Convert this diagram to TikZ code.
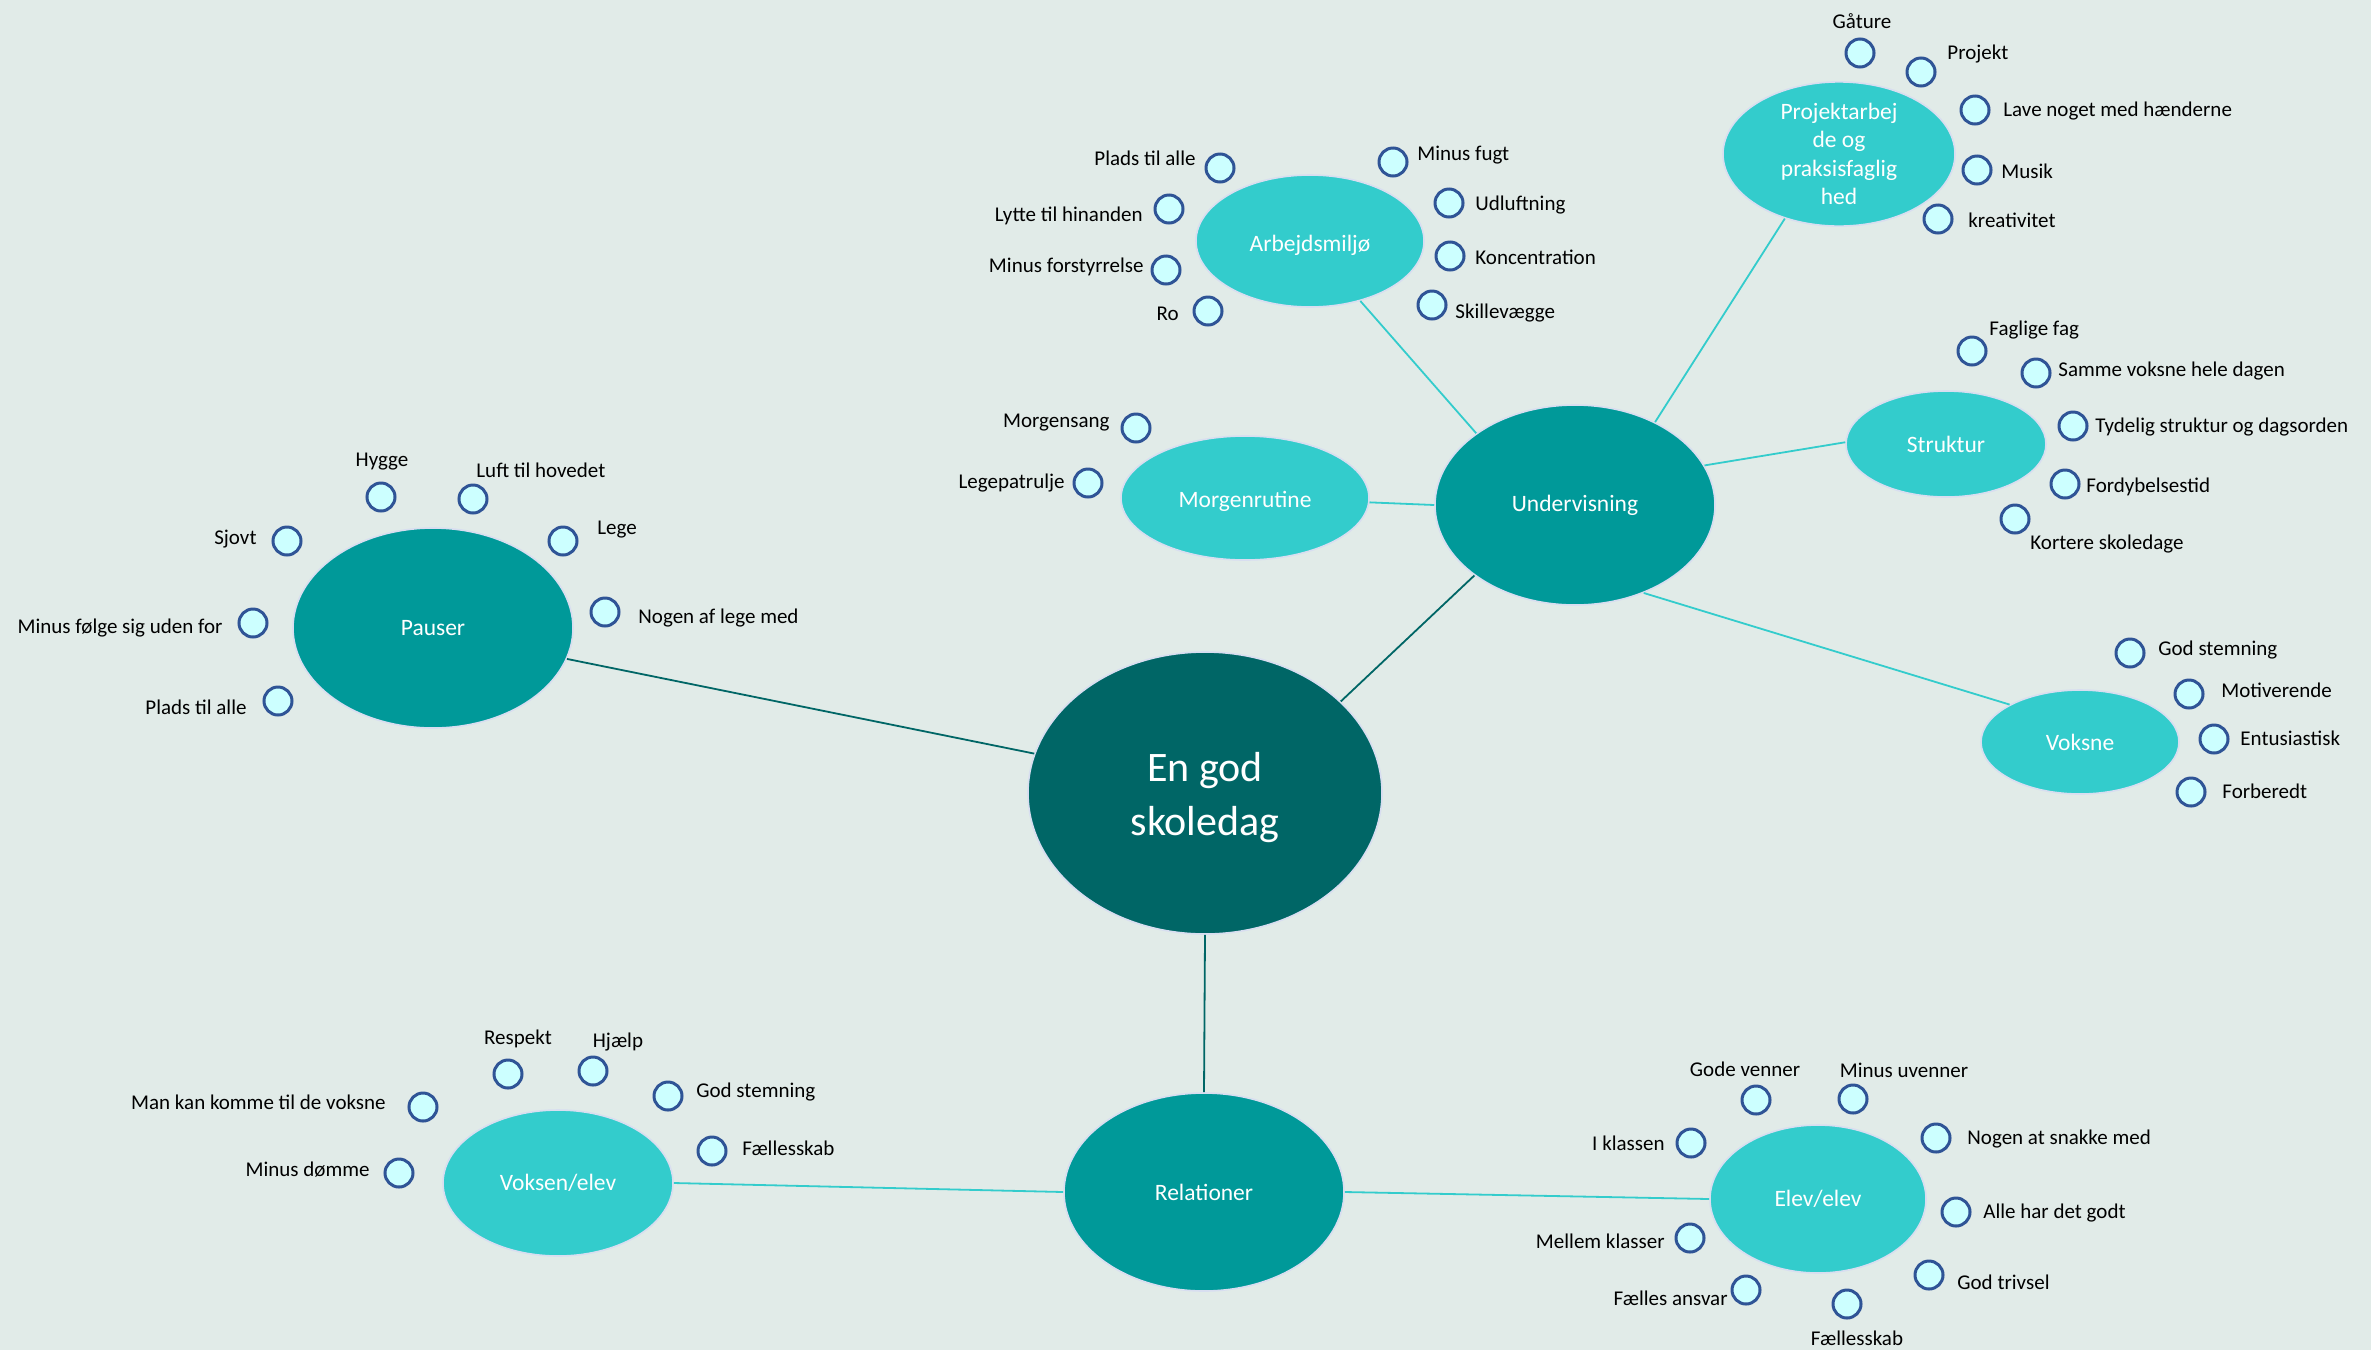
\documentclass[tikz,border=0pt]{standalone}
\usepackage{fontspec}
\setmainfont{Carlito}
\usetikzlibrary{shapes.geometric}
\definecolor{bg}{HTML}{E1EBE8}
\definecolor{coreteal}{HTML}{006666}
\definecolor{midteal}{HTML}{009999}
\definecolor{lightteal}{HTML}{33CCCC}
\definecolor{bubfill}{HTML}{CCFFFF}
\definecolor{bubline}{HTML}{2F5496}
\definecolor{glow}{HTML}{D8DEF0}
\tikzset{
  bub/.style={circle, draw=bubline, fill=bubfill, line width=1.5pt, minimum size=14pt, inner sep=0pt},
  lab/.style={font=\fontsize{10.5}{12.6}\selectfont, inner sep=0pt, text height=0.65em, text depth=0.2em, text=black, yshift=-1.5pt},
  labE/.style={lab, anchor=east},
  labW/.style={lab, anchor=west},
  labC/.style={lab, anchor=center},
  topic/.style={ellipse, draw=glow, line width=0.8pt, text=white, inner sep=0pt, align=center},
  core/.style={topic, fill=coreteal, font=\fontsize{21}{27}\selectfont},
  lvlone/.style={topic, fill=midteal, font=\fontsize{11.75}{14.25}\selectfont},
  lvltwo/.style={topic, fill=lightteal, font=\fontsize{11.75}{14.25}\selectfont},
  linkdark/.style={draw=coreteal, line width=0.9pt},
  linklight/.style={draw=lightteal, line width=0.9pt}
}
\begin{document}
\begin{tikzpicture}[x=0.5pt, y=-0.5pt]
\useasboundingbox[fill=bg] (0,0) rectangle (2371,1350);

% main topics
\node[core, minimum width=177pt, minimum height=141pt] (central) at (1205,793) {\raisebox{-2.5pt}[\height][\depth]{\begin{tabular}{@{}c@{}}En god\\skoledag\end{tabular}}};
\node[lvlone, minimum width=140pt, minimum height=100pt] (und) at (1575,505) {Undervisning};
\node[lvlone, minimum width=140pt, minimum height=100pt] (pauser) at (433,628) {Pauser};
\node[lvlone, minimum width=140pt, minimum height=99pt] (rel) at (1204,1192) {Relationer};

% sub topics
\node[lvltwo, minimum width=114pt, minimum height=66pt] (arb) at (1310,241) {\raisebox{-2pt}[\height][\depth]{Arbejdsmiljø}};
\node[lvltwo, minimum width=116pt, minimum height=67pt] (proj) at (1839,154) {Projektarbej\\de og\\praksisfaglig\\hed};
\node[lvltwo, minimum width=124pt, minimum height=62pt] (morg) at (1245,498) {\raisebox{-1.5pt}[\height][\depth]{Morgenrutine}};
\node[lvltwo, minimum width=100pt, minimum height=53pt] (strukt) at (1946,444) {Struktur};
\node[lvltwo, minimum width=99pt, minimum height=52pt] (voksne) at (2080,742) {Voksne};
\node[lvltwo, minimum width=115pt, minimum height=73pt] (voel) at (558,1183) {Voksen/elev};
\node[lvltwo, minimum width=108pt, minimum height=74pt] (elel) at (1818,1199) {Elev/elev};

% connectors
\draw[linkdark] (central.167) -- (pauser.-13);
\draw[linkdark] (central.34) -- (und.215);
\draw[linkdark] (central.-90) -- (rel.90);
\draw[linklight] (und.144) -- (arb.-50);
\draw[linklight] (und.46) -- (proj.230);
\draw[linklight] (und.17) -- (strukt.179);
\draw[linklight] (und.-52) -- (voksne.152);
\draw[linklight] (und.180) -- (morg.-2);
\draw[linklight] (rel.180) -- (voel.0);
\draw[linklight] (rel.0) -- (elel.180);

% Arbejdsmiljo
\node[bub] (a1) at (1220,168) {}; \node[labE] (a1t) at (1196,158) {Plads til alle};
\node[bub] (a2) at (1169,209) {}; \node[labE] (a2t) at (1143,214) {Lytte til hinanden};
\node[bub] (a3) at (1166,270) {}; \node[labE] (a3t) at (1144,265) {Minus forstyrrelse};
\node[bub] (a4) at (1208,311) {}; \node[labE] (a4t) at (1179,313) {Ro};
\node[bub] (a5) at (1393,162) {}; \node[labW] (a5t) at (1417,153) {Minus fugt};
\node[bub] (a6) at (1449,203) {}; \node[labW] (a6t) at (1475,203) {Udluftning};
\node[bub] (a7) at (1450,256) {}; \node[labW] (a7t) at (1475,257) {Koncentration};
\node[bub] (a8) at (1432,305) {}; \node[labW] (a8t) at (1455,311) {Skillevægge};

% Projektarbejde
\node[bub] (p1) at (1860,53) {}; \node[labC] (p1t) at (1862,21) {Gåture};
\node[bub] (p2) at (1921,72) {}; \node[labW] (p2t) at (1947,52) {Projekt};
\node[bub] (p3) at (1975,110) {}; \node[labW] (p3t) at (2003,109) {Lave noget med hænderne};
\node[bub] (p4) at (1977,170) {}; \node[labW] (p4t) at (2001,171) {Musik};
\node[bub] (p5) at (1938,219) {}; \node[labW] (p5t) at (1968,220) {kreativitet};

% Struktur
\node[bub] (s1) at (1972,351) {}; \node[labW] (s1t) at (1989,328) {Faglige fag};
\node[bub] (s2) at (2036,373) {}; \node[labW] (s2t) at (2058,369) {Samme voksne hele dagen};
\node[bub] (s3) at (2073,426) {}; \node[labW] (s3t) at (2095,425) {Tydelig struktur og dagsorden};
\node[bub] (s4) at (2065,484) {}; \node[labW] (s4t) at (2086,485) {Fordybelsestid};
\node[bub] (s5) at (2015,519) {}; \node[labW] (s5t) at (2030,542) {Kortere skoledage};

% Voksne
\node[bub] (v1) at (2130,653) {}; \node[labW] (v1t) at (2158,648) {God stemning};
\node[bub] (v2) at (2189,694) {}; \node[labW] (v2t) at (2221,690) {Motiverende};
\node[bub] (v3) at (2214,739) {}; \node[labW] (v3t) at (2240,738) {Entusiastisk};
\node[bub] (v4) at (2191,792) {}; \node[labW] (v4t) at (2222,791) {Forberedt};

% Morgenrutine
\node[bub] (m1) at (1136,428) {}; \node[labE] (m1t) at (1110,420) {Morgensang};
\node[bub] (m2) at (1088,483) {}; \node[labE] (m2t) at (1065,481) {Legepatrulje};

% Pauser
\node[bub] (q1) at (381,497) {}; \node[labC] (q1t) at (382,459) {Hygge};
\node[bub] (q2) at (473,499) {}; \node[labW] (q2t) at (476,470) {Luft til hovedet};
\node[bub] (q3) at (287,541) {}; \node[labE] (q3t) at (257,537) {Sjovt};
\node[bub] (q4) at (563,541) {}; \node[labW] (q4t) at (597,527) {Lege};
\node[bub] (q5) at (253,623) {}; \node[labE] (q5t) at (223,626) {Minus følge sig uden for};
\node[bub] (q6) at (605,612) {}; \node[labW] (q6t) at (638,616) {Nogen af lege med};
\node[bub] (q7) at (278,701) {}; \node[labE] (q7t) at (247,707) {Plads til alle};

% Voksen/elev
\node[bub] (r1) at (508,1074) {}; \node[labC] (r1t) at (518,1037) {Respekt};
\node[bub] (r2) at (593,1071) {}; \node[labC] (r2t) at (618,1040) {Hjælp};
\node[bub] (r3) at (668,1096) {}; \node[labW] (r3t) at (696,1090) {God stemning};
\node[bub] (r4) at (712,1151) {}; \node[labW] (r4t) at (742,1148) {Fællesskab};
\node[bub] (r5) at (423,1107) {}; \node[labE] (r5t) at (386,1102) {Man kan komme til de voksne};
\node[bub] (r6) at (399,1173) {}; \node[labE] (r6t) at (370,1169) {Minus dømme};

% Elev/elev
\node[bub] (e1) at (1756,1100) {}; \node[labC] (e1t) at (1745,1069) {Gode venner};
\node[bub] (e2) at (1853,1099) {}; \node[labC] (e2t) at (1904,1070) {Minus uvenner};
\node[bub] (e3) at (1936,1138) {}; \node[labW] (e3t) at (1967,1137) {Nogen at snakke med};
\node[bub] (e4) at (1691,1143) {}; \node[labE] (e4t) at (1665,1143) {I klassen};
\node[bub] (e5) at (1956,1212) {}; \node[labW] (e5t) at (1983,1211) {Alle har det godt};
\node[bub] (e6) at (1690,1238) {}; \node[labE] (e6t) at (1665,1241) {Mellem klasser};
\node[bub] (e7) at (1929,1275) {}; \node[labW] (e7t) at (1957,1282) {God trivsel};
\node[bub] (e8) at (1746,1290) {}; \node[labE] (e8t) at (1728,1298) {Fælles ansvar};
\node[bub] (e9) at (1847,1304) {}; \node[labC] (e9t) at (1857,1338) {Fællesskab};
\end{tikzpicture}
\end{document}
